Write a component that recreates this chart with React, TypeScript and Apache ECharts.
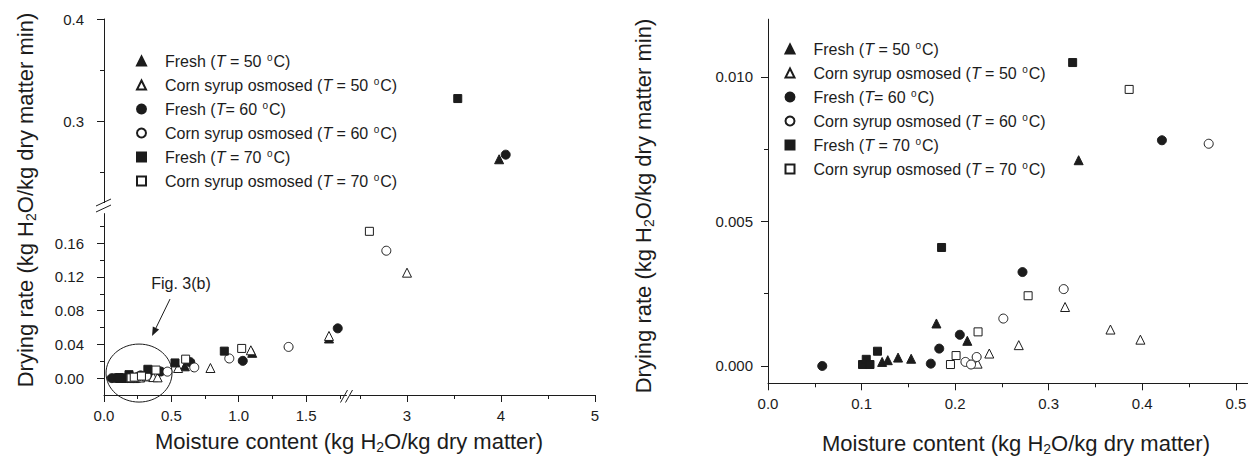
import React, { useEffect, useRef } from 'react';
import * as echarts from 'echarts';

type Pt = [number, number];

const FONT = "'Liberation Sans', Arial, Helvetica, sans-serif";
const INK = '#1c1c1c';

// ---- series identity ----
const seriesNames = [
  'Fresh (T = 50 oC)',
  'Corn syrup osmosed (T = 50 oC)',
  'Fresh (T= 60 oC)',
  'Corn syrup osmosed (T = 60 oC)',
  'Fresh (T = 70 oC)',
  'Corn syrup osmosed (T = 70 oC)',
];
const seriesSymbols = ['triangle', 'triangle', 'circle', 'circle', 'rect', 'rect'];
const seriesFilled = [true, false, true, false, true, false];

// ---- Fig. 3(b): low-moisture detail (also shown inside the circle of Fig. 3(a)) ----
const fresh50Detail: Pt[] = [[0.122, 0.00014], [0.128, 0.0002], [0.139, 0.00029], [0.153, 0.00025], [0.180, 0.00147], [0.213, 0.00087], [0.332, 0.00712]];
const corn50Detail: Pt[] = [[0.224, 0.00008], [0.2365, 0.00043], [0.268, 0.00072], [0.3175, 0.00204], [0.366, 0.00126], [0.398, 0.00091]];
const fresh60Detail: Pt[] = [[0.058, 0.0], [0.174, 0.00008], [0.183, 0.0006], [0.205, 0.00108], [0.272, 0.00325], [0.421, 0.00781]];
const corn60Detail: Pt[] = [[0.211, 0.00014], [0.217, 0.00005], [0.223, 0.00031], [0.2515, 0.00164], [0.316, 0.00266], [0.471, 0.00769]];
const fresh70Detail: Pt[] = [[0.101, 0.00005], [0.105, 0.00023], [0.109, 0.00005], [0.117, 0.00051], [0.1855, 0.0041], [0.3256, 0.0105]];
const corn70Detail: Pt[] = [[0.195, 0.00005], [0.201, 0.00036], [0.2245, 0.00118], [0.278, 0.00243], [0.386, 0.00957]];

// ---- Fig. 3(a): remaining points at higher moisture ----
const fresh50Wide: Pt[] = [[0.60, 0.014], [1.10, 0.030], [1.67, 0.047], [3.98, 0.2625]];
const corn50Wide: Pt[] = [[0.55, 0.012], [0.79, 0.012], [1.09, 0.033], [1.67, 0.050], [3.0, 0.125]];
const fresh60Wide: Pt[] = [[0.64, 0.019], [1.03, 0.0205], [1.735, 0.059], [4.05, 0.267]];
const corn60Wide: Pt[] = [[0.67, 0.0127], [0.93, 0.0233], [1.37, 0.037], [2.78, 0.151]];
const fresh70Wide: Pt[] = [[0.527, 0.018], [0.893, 0.032], [3.54, 0.322]];
const corn70Wide: Pt[] = [[0.606, 0.0225], [1.022, 0.0352], [2.60, 0.174]];

const detailData = [fresh50Detail, corn50Detail, fresh60Detail, corn60Detail, fresh70Detail, corn70Detail];
const wideData = [fresh50Wide, corn50Wide, fresh60Wide, corn60Wide, fresh70Wide, corn70Wide];

// ---- ticks ----
const xLowTicks = [0, 0.5, 1.0, 1.5];
const xLowMinor = [0.25, 0.75, 1.25, 1.75];
const xHighTicks = [3, 4, 5];
const xHighMinor = [2.5, 3.5, 4.5];
const yLowTicks = [0, 0.04, 0.08, 0.12, 0.16];
const yLowMinor = [0.02, 0.06, 0.10, 0.14, 0.18];
const yHighTicks = [0.3, 0.4];
const yHighMinor = [0.25, 0.35];
const xDetailTicks = [0, 0.1, 0.2, 0.3, 0.4, 0.5];
const xDetailMinor = [0.05, 0.15, 0.25, 0.35, 0.45];
const yDetailTicks = [0, 0.005, 0.010];
const yDetailMinor = [0.0025, 0.0075];

// axis extents (broken axes of Fig. 3(a))
const X_LOW: [number, number] = [0, 1.8];
const X_HIGH: [number, number] = [2.4, 5];
const Y_LOW: [number, number] = [-0.02, 0.195];
const Y_HIGH: [number, number] = [0.22, 0.4];
const X_DET: [number, number] = [0, 0.513];
const Y_DET: [number, number] = [-0.0006, 0.012];

const line = { color: INK, width: 1 };

function mainAxis(gridIndex: number, position: string, ext: [number, number], ticks: number[],
  fmt: (v: number) => string, margin: number) {
  return {
    type: 'value', gridIndex, position, min: ext[0], max: ext[1],
    axisLine: { show: true, onZero: false, lineStyle: line },
    axisTick: { show: true, inside: false, length: 7, customValues: ticks, lineStyle: line },
    axisLabel: { show: true, customValues: ticks, formatter: fmt, margin, fontSize: 15, fontFamily: FONT, color: INK },
    splitLine: { show: false },
  };
}
function minorAxis(gridIndex: number, position: string, ext: [number, number], ticks: number[]) {
  return {
    type: 'value', gridIndex, position, min: ext[0], max: ext[1],
    axisLine: { show: false, onZero: false },
    axisTick: { show: true, inside: false, length: 4, customValues: ticks, lineStyle: line },
    axisLabel: { show: false },
    splitLine: { show: false },
  };
}
function hiddenAxis(gridIndex: number, ext: [number, number]) {
  return { type: 'value', gridIndex, min: ext[0], max: ext[1], show: false, splitLine: { show: false } };
}

function legendRich(name: string) {
  const m = name.match(/^(.*\()T(.*?)o(C\))$/);
  if (!m) return name;
  return `{n|${m[1]}}{i|T}{n|${m[2]}}{s|o}{n|${m[3]}}`;
}

const richLegend = {
  n: { fontSize: 16, fontFamily: FONT, color: INK, lineHeight: 18 },
  i: { fontSize: 16, fontFamily: FONT, color: INK, fontStyle: 'italic', lineHeight: 18 },
  s: { fontSize: 10, fontFamily: FONT, color: INK, lineHeight: 12, verticalAlign: 'top', padding: [0, 1, 0, 1] },
};

function makeLegend(left: number, top: number) {
  return {
    orient: 'vertical', left, top, itemWidth: 9, itemHeight: 9, itemGap: 7,
    selectedMode: false, data: seriesNames,
    formatter: legendRich,
    textStyle: { fontSize: 16, fontFamily: FONT, color: INK, rich: richLegend, padding: [0, 0, 0, 14] },
  };
}

function titleText(x: number, y: number, parts: string, rotation = 0) {
  return {
    type: 'text', x, y, rotation,
    style: {
      text: parts,
      align: 'center', verticalAlign: 'middle',
      rich: {
        a: { fontSize: 22, fontFamily: FONT, fill: INK, color: INK, lineHeight: 26 },
        b: { fontSize: 14, fontFamily: FONT, fill: INK, color: INK, lineHeight: 14, verticalAlign: 'bottom' },
      },
    },
  };
}

export default function App() {
  const ref = useRef<HTMLDivElement>(null);
  useEffect(() => {
    if (!ref.current) return;
    const chart = echarts.init(ref.current, null, { renderer: 'svg' });

    const grids = [
      { left: 104, top: 213.6, width: 242.5, height: 181.4 }, // 0 lower-left
      { left: 350.6, top: 213.6, width: 244.4, height: 181.4 }, // 1 lower-right
      { left: 104, top: 19, width: 242.5, height: 183.6 }, // 2 upper-left
      { left: 350.6, top: 19, width: 244.4, height: 183.6 }, // 3 upper-right
      { left: 768, top: 19.2, width: 480, height: 364.1 }, // 4 Fig 3(b)
    ].map((g) => ({ ...g, containLabel: false, outerBoundsMode: 'none', show: false }));

    const f1 = (v: number) => v.toFixed(1);
    const f2 = (v: number) => v.toFixed(2);
    const f3 = (v: number) => v.toFixed(3);
    const f0 = (v: number) => String(Math.round(v));

    const xAxis = [
      mainAxis(0, 'bottom', X_LOW, xLowTicks, f1, 13),
      mainAxis(1, 'bottom', X_HIGH, xHighTicks, f0, 13),
      hiddenAxis(2, X_LOW),
      hiddenAxis(3, X_HIGH),
      mainAxis(4, 'bottom', X_DET, xDetailTicks, f1, 13),
      minorAxis(0, 'bottom', X_LOW, xLowMinor),
      minorAxis(1, 'bottom', X_HIGH, xHighMinor),
      minorAxis(4, 'bottom', X_DET, xDetailMinor),
    ];
    const yAxis = [
      mainAxis(0, 'left', Y_LOW, yLowTicks, f2, 20),
      hiddenAxis(1, Y_LOW),
      mainAxis(2, 'left', Y_HIGH, yHighTicks, f1, 20),
      hiddenAxis(3, Y_HIGH),
      mainAxis(4, 'left', Y_DET, yDetailTicks, f3, 15),
      minorAxis(0, 'left', Y_LOW, yLowMinor),
      minorAxis(2, 'left', Y_HIGH, yHighMinor),
      minorAxis(4, 'left', Y_DET, yDetailMinor),
    ];

    const series: any[] = [];
    seriesNames.forEach((name, i) => {
      const filled = seriesFilled[i];
      const sym = seriesSymbols[i];
      const base = {
        type: 'scatter', name, symbol: sym,
        symbolSize: sym === 'rect' ? 8 : 9,
        itemStyle: { color: filled ? INK : '#ffffff', borderColor: INK, borderWidth: 1, opacity: 1 },
        emphasis: { disabled: true },
        silent: true,
      };
      const all = [...detailData[i], ...wideData[i]];
      const parts: Pt[][] = [[], [], [], []];
      all.forEach((p) => {
        const hiX = p[0] > (X_LOW[1] + X_HIGH[0]) / 2;
        const hiY = p[1] > (Y_LOW[1] + Y_HIGH[0]) / 2;
        parts[(hiY ? 2 : 0) + (hiX ? 1 : 0)].push(p);
      });
      parts.forEach((d, g) => {
        if (d.length) series.push({ ...base, xAxisIndex: g, yAxisIndex: g, data: d });
      });
      series.push({ ...base, xAxisIndex: 4, yAxisIndex: 4, data: detailData[i] });
    });

    chart.setOption({
      animation: false,
      backgroundColor: '#ffffff',
      grid: grids,
      xAxis, yAxis,
      legend: [makeLegend(131, 47), makeLegend(779.5, 35)],
      series,
    });

    // annotations derived from the axes
    const c = chart.convertToPixel({ xAxisIndex: 0, yAxisIndex: 0 }, [0.26, 0.006]) as number[];
    const cx = c[0], cy = c[1];
    const tip = [cx + 13, cy - 37];
    const tail = [cx + 31, cy - 74];
    const dx = tip[0] - tail[0], dy = tip[1] - tail[1];
    const len = Math.hypot(dx, dy);
    const ux = dx / len, uy = dy / len;
    const bx = tip[0] - 9 * ux, by = tip[1] - 9 * uy;
    const px = -uy * 3.5, py = ux * 3.5;

    const brk = (x1: number, y1: number, x2: number, y2: number) => ({
      type: 'line', shape: { x1, y1, x2, y2 }, style: { stroke: INK, lineWidth: 1 },
    });

    chart.setOption({
      graphic: [
        { type: 'ellipse', shape: { cx, cy, rx: 33, ry: 29 }, style: { fill: 'none', stroke: INK, lineWidth: 1 } },
        { type: 'line', shape: { x1: tail[0], y1: tail[1], x2: bx, y2: by }, style: { stroke: INK, lineWidth: 1 } },
        { type: 'polygon', shape: { points: [[tip[0], tip[1]], [bx + px, by + py], [bx - px, by - py]] }, style: { fill: INK } },
        { type: 'text', x: cx + 42, y: cy - 90, style: { text: 'Fig. 3(b)', fontSize: 16, fontFamily: FONT, fill: INK, align: 'center', verticalAlign: 'middle' } },
        // y-axis break
        brk(96, 206, 111, 199),
        brk(96, 212, 111, 205),
        // x-axis break
        brk(340.5, 402.5, 347.5, 390),
        brk(345.5, 402.5, 352.5, 390),
        // axis titles
        titleText(349, 441, '{a|Moisture content (kg H}{b|2}{a|O/kg dry matter)}'),
        titleText(1016, 443, '{a|Moisture content (kg H}{b|2}{a|O/kg dry matter)}'),
        titleText(25, 200, '{a|Drying rate (kg H}{b|2}{a|O/kg dry matter min)}', Math.PI / 2),
        titleText(643, 206, '{a|Drying rate (kg H}{b|2}{a|O/kg dry matter min)}', Math.PI / 2),
      ],
    });

    return () => chart.dispose();
  }, []);

  return (
    <div
      ref={ref}
      style={{ position: 'absolute', left: 0, top: 0, width: 1248, height: 457, background: '#fff' }}
    />
  );
}
